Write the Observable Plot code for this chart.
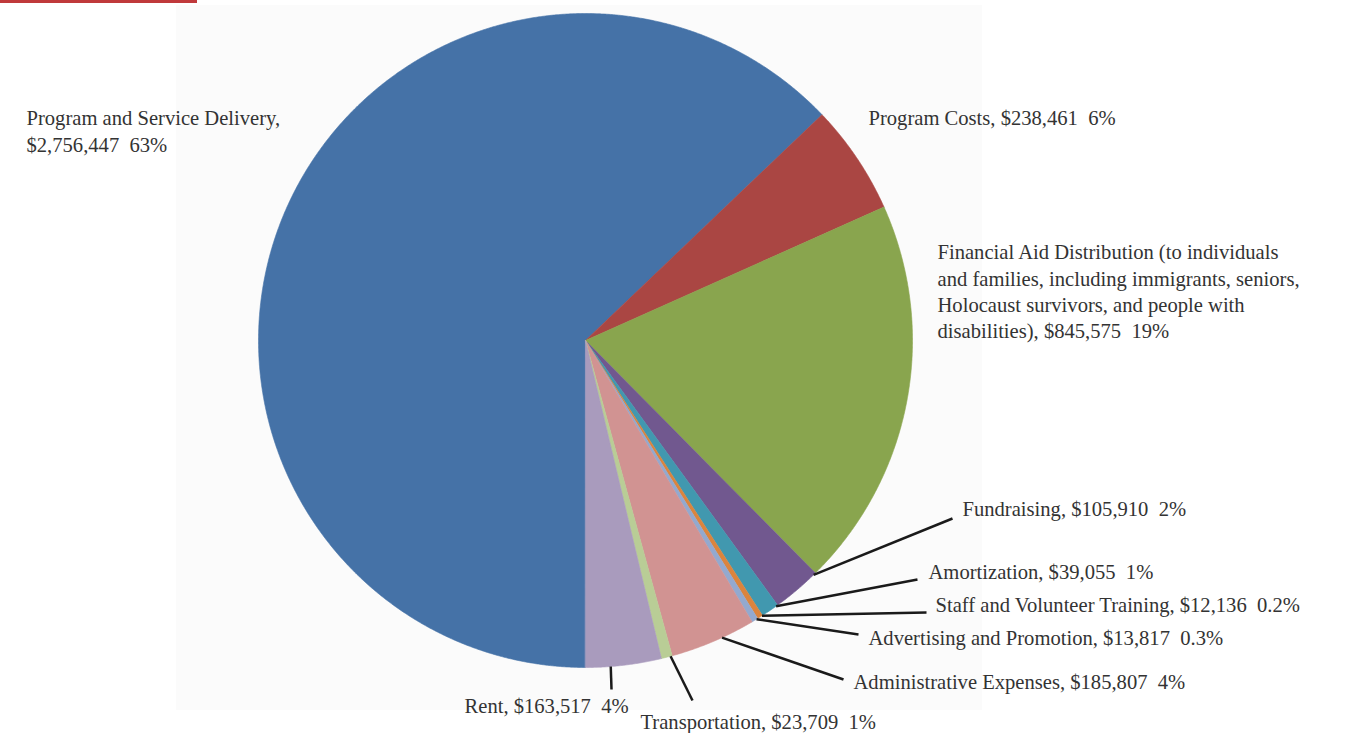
<!DOCTYPE html>
<html>
<head>
<meta charset="utf-8">
<script src="https://cdn.jsdelivr.net/npm/d3@7"></script>
<script src="https://cdn.jsdelivr.net/npm/@observablehq/plot@0.6"></script>
<style>
  html, body { margin: 0; padding: 0; background: #ffffff; }
  #wrap { position: relative; width: 1345px; height: 733px; overflow: hidden; }
  #panel { position: absolute; left: 176px; top: 5px; width: 806px; height: 705px; background: #fbfbfb; }
  #bar { position: absolute; left: 0; top: 0; width: 197px; height: 3px; background: #c0393b; }
  #chart { position: absolute; left: 0; top: 0; }
</style>
</head>
<body>
<div id="wrap"><div id="panel"></div><div id="bar"></div><div id="chart"></div></div>
<script>
// ---- data ----
const categories = [
  "Program and Service Delivery",
  "Program Costs",
  "Financial Aid Distribution (to individuals and families, including immigrants, seniors, Holocaust survivors, and people with disabilities)",
  "Fundraising",
  "Amortization",
  "Staff and Volunteer Training",
  "Advertising and Promotion",
  "Administrative Expenses",
  "Transportation",
  "Rent"
];
const amounts = [2756447, 238461, 845575, 105910, 39055, 12136, 13817, 185807, 23709, 163517];
const percentLabels = ["63%", "6%", "19%", "2%", "1%", "0.2%", "0.3%", "4%", "1%", "4%"];
const colors = ["#4572a7", "#aa4643", "#89a54e", "#71588f", "#4198af", "#db843d", "#93a9cf", "#d19392", "#b9cd96", "#a99bbd"];

// ---- layout (pixels) ----
const W = 1345, H = 733, CX = 585, CY = 340, R = 327;
// label: start x, middle y of text block, wrap width (chars), leader: t within slice, end point
const labelLayout = [
  { x: 26,  y: 129.5, wrap: 30 },
  { x: 868, y: 116,   wrap: 80 },
  { x: 937, y: 290,   wrap: 44 },
  { x: 962, y: 507,   wrap: 80, t: 0.05, ex: 952, ey: 518 },
  { x: 928, y: 570,   wrap: 80, t: 0.1,  ex: 917, ey: 579 },
  { x: 935, y: 603,   wrap: 80, t: 0.1,  ex: 926, ey: 612 },
  { x: 868, y: 636,   wrap: 80, t: 0.2,  ex: 858, ey: 634 },
  { x: 853, y: 680,   wrap: 80, t: 0.39, ex: 843, ey: 679 },
  { x: 640, y: 720,   wrap: 80, t: 0.15, ex: 692, ey: 700 },
  { x: 464, y: 704,   wrap: 80, t: 0.67, ex: 611, ey: 689 }
];

const ux = px => (px - CX) / R;
const uy = py => (CY - py) / R;

const fmt = d3.format(",");
const data = categories.map((c, i) => ({ name: c, amount: amounts[i], pct: percentLabels[i], color: colors[i] }));
const arcs = d3.pie().sort(null).value(d => d.amount).startAngle(Math.PI).endAngle(3 * Math.PI)(data);

// slice polygons (unit circle)
const slicePts = [];
arcs.forEach((a, i) => {
  const n = Math.max(3, Math.ceil((a.endAngle - a.startAngle) / 0.004));
  slicePts.push({ slice: i, x: 0, y: 0, color: colors[i] });
  for (let k = 0; k <= n; k++) {
    const t = a.startAngle + (a.endAngle - a.startAngle) * k / n;
    slicePts.push({ slice: i, x: Math.sin(t), y: Math.cos(t), color: colors[i] });
  }
});

function wrapText(words, width) {
  const lines = [];
  let cur = "";
  for (const w of words) {
    if (cur === "") cur = w;
    else if ((cur + " " + w).length <= width) cur += " " + w;
    else { lines.push(cur); cur = w; }
  }
  if (cur) lines.push(cur);
  return lines.join("\n");
}

const labels = data.map((d, i) => {
  const L = labelLayout[i];
  const words = (d.name + ",").split(" ");
  words.push("$" + fmt(d.amount) + " \u00a0" + d.pct);
  return { text: wrapText(words, L.wrap), x: ux(L.x), y: uy(L.y) };
});

const leaders = [];
arcs.forEach((a, i) => {
  const L = labelLayout[i];
  if (L.t === undefined) return;
  const ang = a.startAngle + (a.endAngle - a.startAngle) * L.t;
  leaders.push({ x1: Math.sin(ang), y1: Math.cos(ang), x2: ux(L.ex), y2: uy(L.ey) });
});

const chart = Plot.plot({
  width: W,
  height: H,
  margin: 0,
  x: { domain: [ux(0), ux(W)], range: [0, W], axis: null },
  y: { domain: [uy(H), uy(0)], range: [H, 0], axis: null },
  color: { type: "identity" },
  style: { background: "transparent", fontFamily: "'Liberation Serif', 'DejaVu Serif', serif" },
  marks: [
    Plot.line(slicePts, { x: "x", y: "y", z: "slice", fill: "color", stroke: "color", strokeWidth: 0.6, curve: "linear-closed" }),
    Plot.link(leaders, { x1: "x1", y1: "y1", x2: "x2", y2: "y2", stroke: "#1a1a1a", strokeWidth: 2.5 }),
    Plot.text(labels, { x: "x", y: "y", text: "text", textAnchor: "start", lineAnchor: "middle", lineHeight: 1.28, fontSize: 20.6, fill: "#333333" })
  ]
});
document.getElementById("chart").appendChild(chart);
</script>
</body>
</html>
